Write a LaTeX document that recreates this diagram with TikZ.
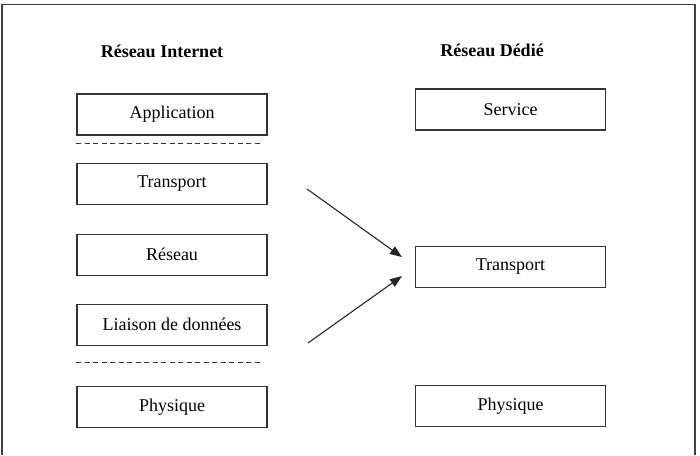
\documentclass[tikz,border=0pt]{standalone}
\usepackage{fontspec}
\setmainfont{Liberation Serif}
\usetikzlibrary{%
  positioning
 ,arrows.meta
}

\begin{document}
\begin{tikzpicture}[x=1pt,y=1pt]
    \tikzstyle{layer}=[rectangle,draw=black!80,line width=1.1pt,
      minimum width=190pt,minimum height=41pt,inner sep=0pt,
      font=\fontsize{18}{20}\selectfont]
    \tikzstyle{ttl}=[font=\fontsize{18}{20}\selectfont\bfseries,inner sep=0pt]
    \useasboundingbox (0,0) rectangle (700,455);
    \draw[black!75,line width=1.2pt] (2,0) |- (695,450.5) -- (695,0);
    % internet stack
    \node[ttl](tinet)at(162,404){Réseau Internet};
    \node[layer](app)at(172,340.5){Application};
    \node[layer,below=27pt of app](trans){Transport};
    \node[layer,below=29pt of trans](net){Réseau};
    \node[layer,below=28pt of net](link){Liaison de données};
    \node[layer,below=40pt of link](phys){Physique};
    %
    \tikzstyle{sep}=[black!80,line width=1pt,dash pattern=on 5pt off 3.5pt]
    \draw[sep] (app.south west)++(0,-8) coordinate(s1) -- ++(186,0);
    \draw[sep] (phys.north west)++(0,23) coordinate(s2) -- ++(186,0);
    % dedicated network
    \node[ttl](tded)at(492,405){Réseau Dédié};
    \node[layer](serv)at(510.5,345.5){Service};
    \node[layer,below=115pt of serv](dtrans){Transport};
    \node[layer,below=97pt of dtrans](dphys){Physique};
    %
    \coordinate(from1)at(307,266);
    \coordinate(from2)at(308,112);
    \tikzstyle{arr}=[-{Triangle[length=12pt,width=9pt]},black!85,line width=1.1pt]
    \draw[arr] (from1) -- ([shift={(-13pt,9.5pt)}]dtrans.west);
    \draw[arr] (from2) -- ([shift={(-13pt,-9.5pt)}]dtrans.west);
\end{tikzpicture}
\end{document}
